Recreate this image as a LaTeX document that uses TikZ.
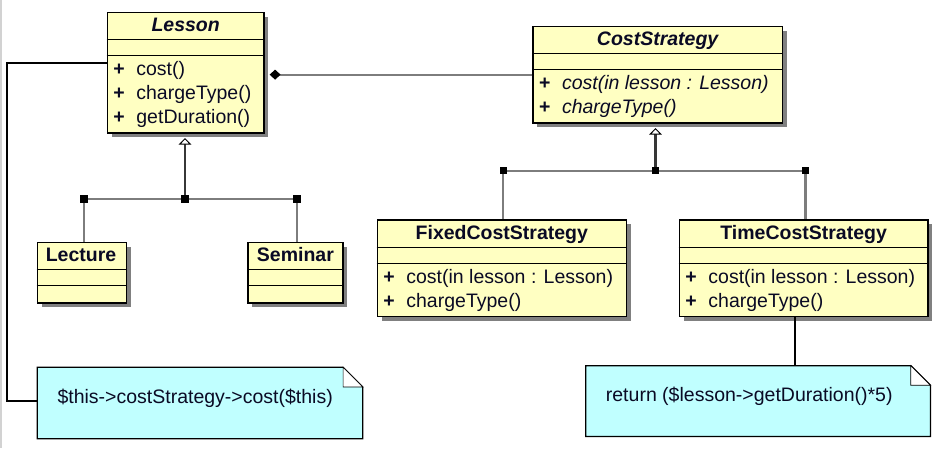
\documentclass[tikz,border=0pt]{standalone}
\usepackage{fontspec}
\setmainfont{Liberation Sans}
\usetikzlibrary{arrows.meta,calc,shadows}
\definecolor{clsfill}{RGB}{255,255,194}
\definecolor{notefill}{RGB}{192,255,255}
\definecolor{ink}{RGB}{10,10,36}
\definecolor{shade}{RGB}{128,128,128}
\definecolor{genline}{RGB}{125,125,125}
\definecolor{stemline}{RGB}{55,55,55}
\tikzset{
  cls/.style={draw=black, line width=1.3pt, fill=clsfill, inner sep=0pt, anchor=north west,
    drop shadow={shadow xshift=4.5pt, shadow yshift=-4.5pt, opacity=1, fill=shade}},
  sepline/.style={draw=black, line width=1.2pt},
  ttl/.style={inner sep=0pt, anchor=base, text=ink, font=\fontsize{19.5pt}{23pt}\selectfont\bfseries},
  plus/.style={inner sep=0pt, anchor=base west, text=ink, font=\fontsize{19.5pt}{23pt}\selectfont\bfseries},
  mem/.style={inner sep=0pt, anchor=base west, text=ink, font=\fontsize{19.5pt}{23pt}\selectfont},
  notebox/.style={draw=none, inner sep=0pt, anchor=north west},
  noteborder/.style={draw=black, line width=1.3pt, fill=notefill},
  flap/.style={draw=black, line width=0.7pt, fill=white},
  notelink/.style={draw=black, line width=2.2pt},
  genl/.style={draw=genline, line width=2.2pt},
  stem/.style={draw=stemline, line width=2.2pt,
    -{Triangle[open, length=6.5pt, width=12.5pt, line width=1pt, color=black, fill=white]}},
  comp/.style={draw=genline, line width=1.8pt,
    -{Diamond[length=11pt, width=10pt, color=black, fill=black]}},
  jsq/.style={fill=black, minimum size=7.5pt, inner sep=0pt, draw=none},
}
\newcommand\clsbox[5]{%
  \node[cls, minimum width=#4pt, minimum height=#5pt] (#1) at (#2,#3) {};
  \draw[sepline] ($(#1.north west)+(0,27.8)$) -- ($(#1.north east)+(0,27.8)$);
  \draw[sepline] ($(#1.north west)+(0,43.8)$) -- ($(#1.north east)+(0,43.8)$);
}
\begin{document}
\begin{tikzpicture}[x=1pt,y=-1pt]
\useasboundingbox (0,0) rectangle (939,448);
\fill[white] (0,0) rectangle (939,448);
\draw[gray!35, line width=1.5pt] (0.75,0) -- (0.75,448);

% ---------- classes ----------
\clsbox{lesson}{106.7}{11.7}{156.6}{120.6}
\node[ttl] (lesson-t) at ($(lesson.north)+(0,19.5)$) {\itshape Lesson};
\node[plus] (lesson-p1) at ($(lesson.north west)+(6.5,63.3)$) {+};
\node[mem]  (lesson-m1) at ($(lesson.north west)+(29.5,63.3)$) {cost()};
\node[plus] (lesson-p2) at ($(lesson.north west)+(6.5,87.3)$) {+};
\node[mem]  (lesson-m2) at ($(lesson.north west)+(29.5,87.3)$) {chargeType()};
\node[plus] (lesson-p3) at ($(lesson.north west)+(6.5,111.3)$) {+};
\node[mem]  (lesson-m3) at ($(lesson.north west)+(29.5,111.3)$) {getDuration()};

\clsbox{costs}{532.3}{25.7}{249.4}{96.6}
\node[ttl] (costs-t) at ($(costs.north)+(0,19.5)$) {\itshape CostStrategy};
\node[plus] (costs-p1) at ($(costs.north west)+(6.5,63.8)$) {+};
\node[mem]  (costs-m1) at ($(costs.north west)+(29.5,63.8)$) {\itshape cost(in lesson : Lesson)};
\node[plus] (costs-p2) at ($(costs.north west)+(6.5,87.8)$) {+};
\node[mem]  (costs-m2) at ($(costs.north west)+(29.5,87.8)$) {\itshape chargeType()};

\clsbox{fixed}{376.7}{219.3}{249}{96.7}
\node[ttl] (fixed-t) at ($(fixed.north)+(0,19.8)$) {FixedCostStrategy};
\node[plus] (fixed-p1) at ($(fixed.north west)+(6.5,64.3)$) {+};
\node[mem]  (fixed-m1) at ($(fixed.north west)+(29.5,64.3)$) {cost(in lesson : Lesson)};
\node[plus] (fixed-p2) at ($(fixed.north west)+(6.5,88.3)$) {+};
\node[mem]  (fixed-m2) at ($(fixed.north west)+(29.5,88.3)$) {chargeType()};

\clsbox{time}{678.7}{219.3}{248.6}{96.7}
\node[ttl] (time-t) at ($(time.north)+(0,19.8)$) {TimeCostStrategy};
\node[plus] (time-p1) at ($(time.north west)+(6.5,64.3)$) {+};
\node[mem]  (time-m1) at ($(time.north west)+(29.5,64.3)$) {cost(in lesson : Lesson)};
\node[plus] (time-p2) at ($(time.north west)+(6.5,88.3)$) {+};
\node[mem]  (time-m2) at ($(time.north west)+(29.5,88.3)$) {chargeType()};

\clsbox{lecture}{36.7}{241.7}{89}{60.6}
\node[ttl] (lecture-t) at ($(lecture.north)+(-0.8,19.3)$) {Lecture};

\clsbox{seminar}{247.3}{241.7}{95}{60.6}
\node[ttl] (seminar-t) at ($(seminar.north)+(0,19.3)$) {Seminar};

% ---------- notes ----------
\node[notebox, minimum width=325pt, minimum height=71pt] (note1) at (37.3,367.3) {};
\draw[noteborder] (note1.north west) -- ($(note1.north east)+(-19.6,0)$) -- ($(note1.north east)+(0,19.6)$) -- (note1.south east) -- (note1.south west) -- cycle;
\draw[flap] ($(note1.north east)+(-19.6,0)$) -- ($(note1.north east)+(-19.6,19.6)$) -- ($(note1.north east)+(0,19.6)$) -- cycle;
\node[mem] (note1-t) at ($(note1.north west)+(20,36)$) {\$this->costStrategy->cost(\$this)};

\node[notebox, minimum width=344.3pt, minimum height=70.3pt] (note2) at (585.7,365.7) {};
\draw[noteborder] (note2.north west) -- ($(note2.north east)+(-19.6,0)$) -- ($(note2.north east)+(0,19.6)$) -- (note2.south east) -- (note2.south west) -- cycle;
\draw[flap] ($(note2.north east)+(-19.6,0)$) -- ($(note2.north east)+(-19.6,19.6)$) -- ($(note2.north east)+(0,19.6)$) -- cycle;
\node[mem] (note2-t) at ($(note2.north west)+(20,36)$) {return (\$lesson->getDuration()*5)};

% ---------- note links ----------
\coordinate (bendA) at (6.7,63.3);
\draw[notelink] ($(lesson.north west)+(0,51.6)$) -- (bendA) |- ($(note1.north west)+(0,34)$);
\coordinate (tlink) at ($(time.south)+(-8.7,0)$);
\draw[notelink] (tlink) -- (tlink |- note2.north);

% ---------- composition ----------
\coordinate (dtip) at ($(lesson.east)+(5,0)$);
\draw[comp] (costs.west) -- (dtip |- costs.west);

% ---------- generalization: Lesson ----------
\coordinate (c1) at (185,199);
\coordinate (c1a) at (84,199);
\coordinate (c1b) at (297,199);
\coordinate (t1) at ($(c1 |- lesson.south)+(0,4.4)$);
\draw[genl] (c1a) -- (c1b);
\draw[genl] (c1a) -- (c1a |- lecture.north);
\draw[genl] (c1b) -- (c1b |- seminar.north);
\draw[stem] (c1) -- (t1);
\node[jsq] (j1) at (c1) {};
\node[jsq] (j1a) at (c1a) {};
\node[jsq] (j1b) at (c1b) {};

% ---------- generalization: CostStrategy ----------
\coordinate (c2) at (655.5,170.7);
\coordinate (c2a) at (503.3,170.7);
\coordinate (c2b) at (805.5,170.7);
\coordinate (t2) at ($(c2 |- costs.south)+(0,4.4)$);
\draw[genl] (c2a) -- (c2b);
\draw[genl] (c2a) -- (c2a |- fixed.north);
\draw[genl] (c2b) -- (c2b |- time.north);
\draw[stem] (c2) -- (t2);
\node[jsq] (j2) at (c2) {};
\node[jsq] (j2a) at (c2a) {};
\node[jsq] (j2b) at (c2b) {};
\end{tikzpicture}
\end{document}
